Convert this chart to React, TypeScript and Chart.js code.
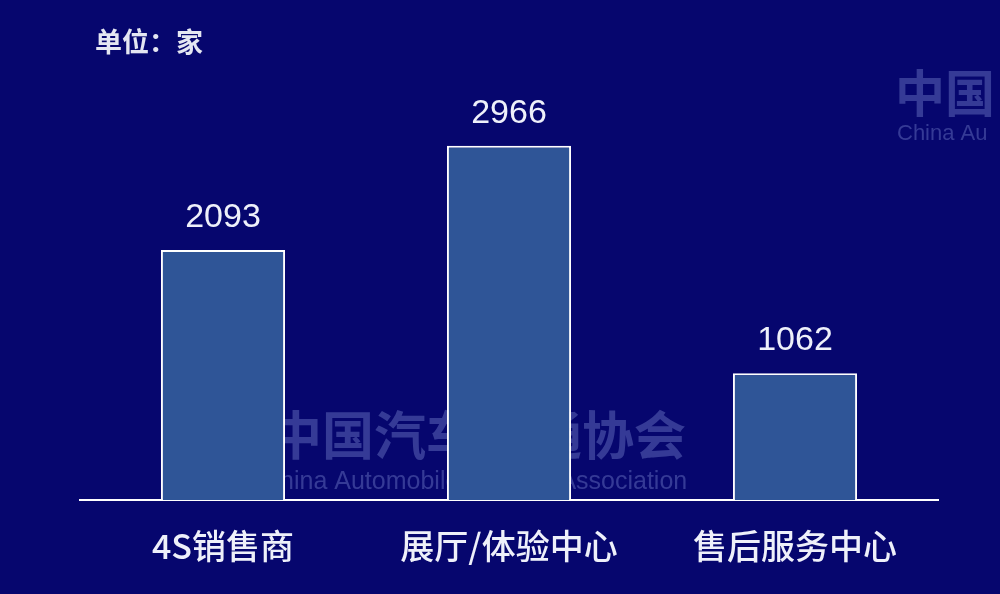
import React, { useEffect, useRef } from "react";
import { Chart, registerables } from "chart.js";

Chart.register(...registerables);

const categories = ["4S销售商", "展厅/体验中心", "售后服务中心"];
const values = [2093, 2966, 1062];
const unitLabel = "单位：家";
const yMax = 3500;

const FONT = '"Noto Sans CJK SC", "Noto Sans", sans-serif';
const NUM_FONT = '"Liberation Sans", Arial, sans-serif';
const BG = "#06066e";

const bgPlugin = {
  id: "bg",
  beforeDraw(chart: any) {
    const { ctx, width, height } = chart;
    ctx.save();
    ctx.fillStyle = BG;
    ctx.fillRect(0, 0, width, height);
    ctx.restore();
  },
};

const watermarkPlugin = {
  id: "watermark",
  beforeDatasetsDraw(chart: any) {
    const { ctx } = chart;
    ctx.save();
    ctx.fillStyle = "rgba(120,130,205,0.42)";
    ctx.textBaseline = "alphabetic";
    ctx.textAlign = "left";
    ctx.font = `bold 52px ${FONT}`;
    ctx.fillText("中国汽车流通协会", 270, 455);
    ctx.font = `25px ${NUM_FONT}`;
    ctx.fillText("China Automobile Dealers Association", 262, 489);
    ctx.font = `bold 50px ${FONT}`;
    ctx.fillText("中国", 895, 112);
    ctx.font = `22px ${NUM_FONT}`;
    ctx.fillText("China Au", 897, 140);
    ctx.restore();
  },
};

const labelsPlugin = {
  id: "valueLabels",
  afterDatasetsDraw(chart: any) {
    const { ctx } = chart;
    const meta = chart.getDatasetMeta(0);
    ctx.save();
    ctx.fillStyle = "#eef0fa";
    ctx.font = `34px ${NUM_FONT}`;
    ctx.textAlign = "center";
    ctx.textBaseline = "alphabetic";
    meta.data.forEach((bar: any, i: number) => {
      ctx.fillText(String(values[i]), bar.x, bar.y - 23);
    });
    ctx.font = `bold 27px ${FONT}`;
    ctx.textAlign = "left";
    ctx.textBaseline = "middle";
    ctx.fillStyle = "#e4e6f2";
    ctx.fillText(unitLabel, 95, 42);
    ctx.restore();
  },
};

export default function App() {
  const ref = useRef<HTMLCanvasElement>(null);
  useEffect(() => {
    if (!ref.current) return;
    const chart = new Chart(ref.current, {
      type: "bar",
      data: {
        labels: categories,
        datasets: [
          {
            data: values,
            backgroundColor: "#2f5597",
            borderColor: "#ffffff",
            borderWidth: 2,
            barPercentage: 0.434,
            categoryPercentage: 1,
          },
        ],
      },
      options: {
        responsive: false,
        animation: false,
        layout: { padding: { left: 80, right: 62, top: 82, bottom: 0 } },
        plugins: { legend: { display: false }, tooltip: { enabled: false } },
        scales: {
          x: {
            grid: { display: false },
            border: { display: true, color: "#ffffff", width: 2 },
            ticks: {
              color: "#eef0fa",
              font: { family: FONT, size: 34, weight: 500 },
              padding: 18,
              maxRotation: 0,
            },
            afterFit(scale: any) {
              scale.height = 94;
            },
          },
          y: {
            display: false,
            min: 0,
            max: yMax,
          },
        },
      },
      plugins: [bgPlugin, watermarkPlugin, labelsPlugin],
    });
    return () => chart.destroy();
  }, []);
  return (
    <div style={{ position: "fixed", left: 0, top: 0, width: 1000, height: 594 }}>
      <canvas ref={ref} width={1000} height={594} />
    </div>
  );
}
